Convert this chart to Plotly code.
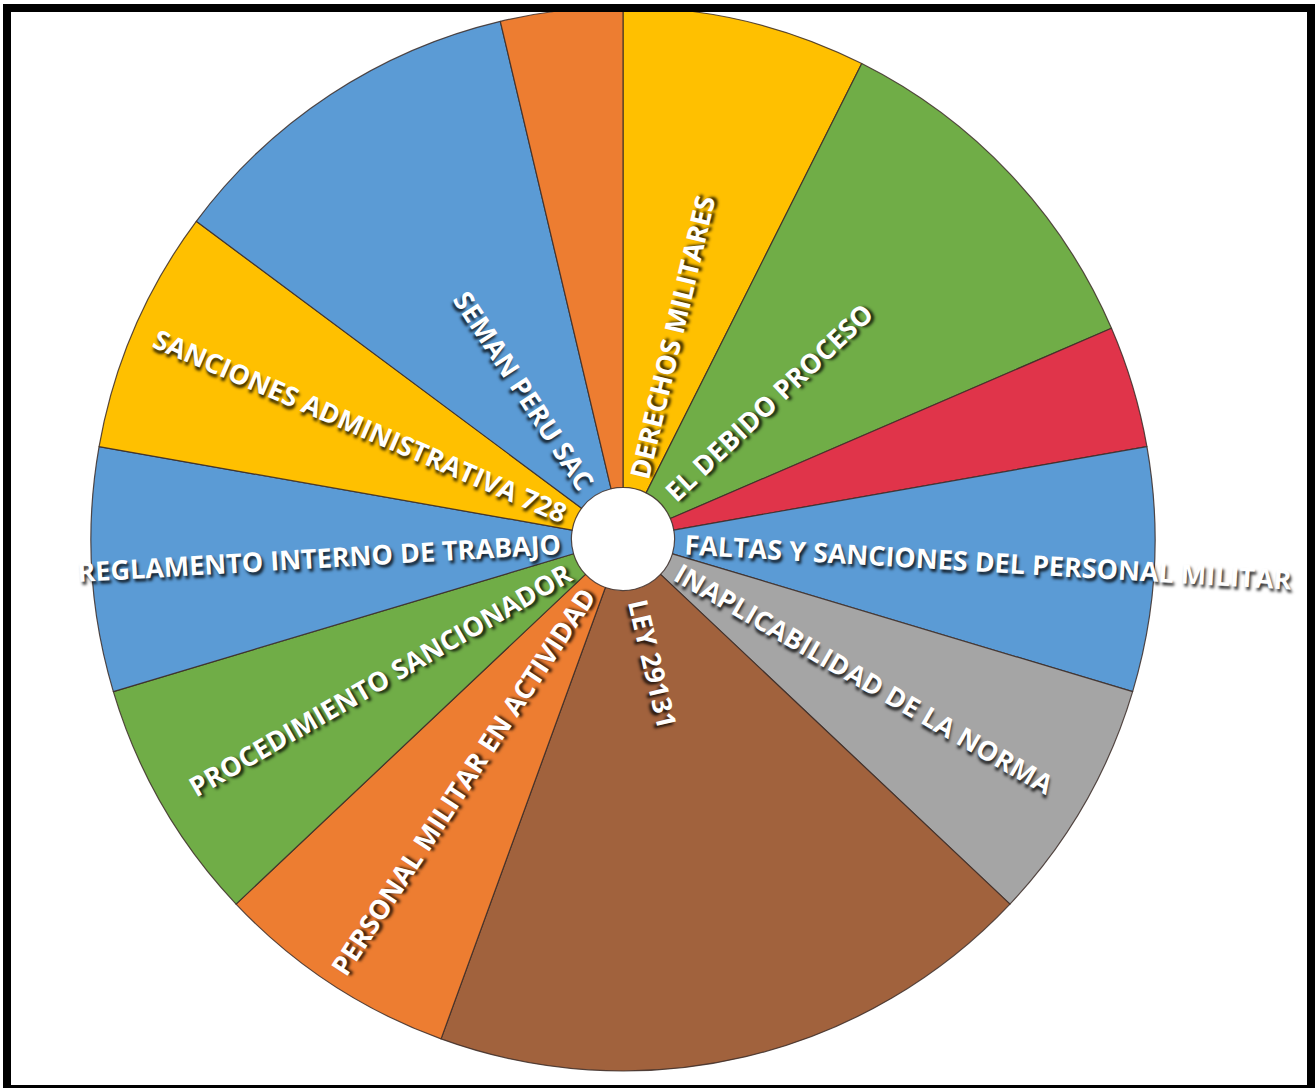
import math
import plotly.graph_objects as go

# ---- data (clockwise from 12 o'clock) ----
categories = [
    "DERECHOS MILITARES",
    "EL DEBIDO PROCESO",
    "Sin etiqueta A",
    "FALTAS Y SANCIONES DEL PERSONAL MILITAR",
    "INAPLICABILIDAD DE LA NORMA",
    "LEY 29131",
    "PERSONAL MILITAR EN ACTIVIDAD",
    "PROCEDIMIENTO SANCIONADOR",
    "REGLAMENTO INTERNO DE TRABAJO",
    "SANCIONES ADMINISTRATIVA 728",
    "SEMAN PERU SAC",
    "Sin etiqueta B",
]
values = [2, 3, 1, 2, 2, 5, 2, 2, 2, 2, 3, 1]
shown_labels = [
    "DERECHOS MILITARES",
    "EL DEBIDO PROCESO",
    "",
    "FALTAS Y SANCIONES DEL PERSONAL MILITAR",
    "INAPLICABILIDAD DE LA NORMA",
    "LEY 29131",
    "PERSONAL MILITAR EN ACTIVIDAD",
    "PROCEDIMIENTO SANCIONADOR",
    "REGLAMENTO INTERNO DE TRABAJO",
    "SANCIONES ADMINISTRATIVA 728",
    "SEMAN PERU SAC",
    "",
]
colors = ["#FFC000", "#70AD47", "#E0344A", "#5B9BD5", "#A5A5A5", "#A1623D",
          "#ED7D31", "#70AD47", "#5B9BD5", "#FFC000", "#5B9BD5", "#ED7D31"]

# ---- layout geometry ----
W, H = 1315, 1088
CX, CY, R = 623, 539, 532
HOLE = 0.097
R0 = 60          # label start radius (px)
FONT_SIZE = 27
BOX_H = FONT_SIZE * 1.3 + 4

fig = go.Figure(go.Pie(
    labels=categories,
    values=values,
    sort=False,
    direction="clockwise",
    rotation=0,
    hole=HOLE,
    marker=dict(colors=colors, line=dict(color="rgba(60,45,40,0.85)", width=1.2)),
    textinfo="none",
    textposition="none",
    hoverinfo="label+value+percent",
    domain=dict(x=[(CX - R) / W, (CX + R) / W], y=[1 - (CY + R) / H, 1 - (CY - R) / H]),
    showlegend=False,
))

total = sum(values)
cum = 0
annotations = []
for v, txt in zip(values, shown_labels):
    mid = (cum + v / 2) / total * 360.0
    cum += v
    if not txt:
        continue
    th = math.radians(mid)
    ux, uy = math.sin(th), -math.cos(th)   # screen coords (y down)
    sx, sy = CX + R0 * ux, CY + R0 * uy
    if ux >= 0:
        xanchor = "left"
        xp = sx - (BOX_H / 2) * abs(uy)
    else:
        xanchor = "right"
        xp = sx + (BOX_H / 2) * abs(uy)
    if uy < 0:
        yanchor = "bottom"
        yp = sy + (BOX_H / 2) * abs(ux)
    else:
        yanchor = "top"
        yp = sy - (BOX_H / 2) * abs(ux)
    angle = mid - 90 if mid < 180 else mid - 270
    annotations.append(dict(
        x=xp / W, y=1 - yp / H, xref="paper", yref="paper",
        text=txt, showarrow=False, textangle=angle,
        xanchor=xanchor, yanchor=yanchor,
        font=dict(family="Open Sans", size=FONT_SIZE, color="white", weight=700,
                  shadow="2px 3px 3px rgba(0,0,0,0.8)"),
    ))

fig.update_layout(
    width=W, height=H,
    margin=dict(l=0, r=0, t=0, b=0),
    paper_bgcolor="white",
    plot_bgcolor="white",
    annotations=annotations,
    shapes=[dict(type="rect", xref="paper", yref="paper",
                 x0=7 / W, x1=1311 / W, y0=1 - 1089 / H, y1=1 - 8 / H,
                 line=dict(color="black", width=8), fillcolor="rgba(0,0,0,0)")],
)

fig.write_html("out.html",
               config={"displayModeBar": False},
               post_script="document.body.style.margin='0';document.body.style.overflow='hidden';")
